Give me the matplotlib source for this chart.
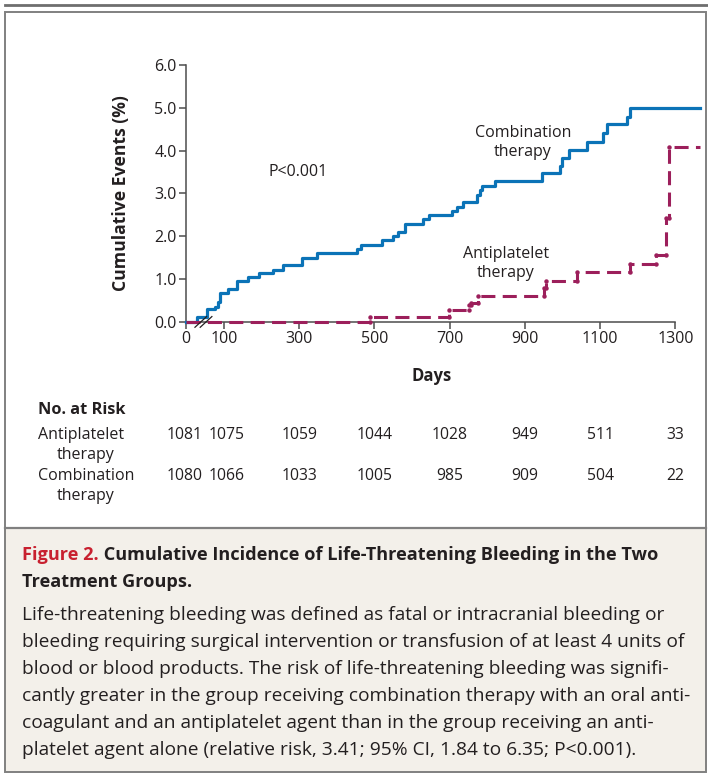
import matplotlib
matplotlib.use("Agg")
import matplotlib.pyplot as plt
from matplotlib.patches import Rectangle
from matplotlib.lines import Line2D
import numpy as np

plt.rcParams['font.family'] = ['Open Sans', 'DejaVu Sans']

#---------------------data
# combination therapy: day of each step, cumulative events (%) after the step
comb_days = [0, 28, 54, 76, 84, 90, 112, 136, 165, 194, 231, 258, 308, 348, 453, 464,
             519, 549, 564, 581, 630, 646, 705, 719, 735, 772, 781, 785, 821, 945, 993,
             1000, 1018, 1066, 1107, 1118, 1172, 1179, 1365]
comb_risk = [0.0, 0.12, 0.29, 0.35, 0.45, 0.66, 0.76, 0.96, 1.04, 1.13, 1.22, 1.32, 1.50,
             1.61, 1.70, 1.80, 1.90, 2.00, 2.10, 2.28, 2.39, 2.49, 2.59, 2.69, 2.79, 2.96,
             3.08, 3.17, 3.29, 3.47, 3.64, 3.82, 4.01, 4.21, 4.40, 4.61, 4.79, 4.99, 4.99]

# antiplatelet therapy
anti_days = [0, 488, 699, 752, 758, 776, 951, 956, 1038, 1179, 1249, 1275, 1284, 1365]
anti_risk = [0.0, 0.10, 0.28, 0.38, 0.44, 0.59, 0.78, 0.96, 1.15, 1.35, 1.55, 2.42, 4.09, 4.09]

risk_days = [0, 100, 300, 500, 700, 900, 1100, 1300]
risk_anti = [1081, 1075, 1059, 1044, 1028, 949, 511, 33]
risk_comb = [1080, 1066, 1033, 1005, 985, 909, 504, 22]

yticks = [0, 1, 2, 3, 4, 5, 6]

caption_body = [
    "Life-threatening bleeding was defined as fatal or intracranial bleeding or",
    "bleeding requiring surgical intervention or transfusion of at least 4 units of",
    "blood or blood products. The risk of life-threatening bleeding was signifi-",
    "cantly greater in the group receiving combination therapy with an oral anti-",
    "coagulant and an antiplatelet agent than in the group receiving an anti-",
    "platelet agent alone (relative risk, 3.41; 95% CI, 1.84 to 6.35; P<0.001).",
]

BLUE = "#0B73B7"
MAROON = "#9C1F5B"
RED = "#C8202F"
DARK = "#231F20"
GREY = "#808080"
BEIGE = "#F3F0EA"

W, H = 708, 774
def fx(px):
    return px / W
def fy(py):
    return 1 - py / H

fig = plt.figure(figsize=(W / 100, H / 100), dpi=100)

#---------------------frame and caption panel
fig.add_artist(Rectangle((fx(5), fy(772)), fx(706) - fx(5), fy(527) - fy(772),
                         transform=fig.transFigure, facecolor=BEIGE, edgecolor='none', zorder=0))
fig.add_artist(Rectangle((fx(5), fy(772)), fx(706) - fx(5), fy(12) - fy(772),
                         transform=fig.transFigure, facecolor='none', edgecolor=GREY, lw=1.4, zorder=1))
fig.add_artist(Line2D([fx(5), fx(706)], [fy(527.5), fy(527.5)], transform=fig.transFigure,
                      color=GREY, lw=1.6))
fig.add_artist(Line2D([fx(5), 1], [fy(5), fy(5)], transform=fig.transFigure, color="#6E6E6E", lw=2.0))

#---------------------the plot
X0, X1 = 186.3, 699.8
left, right, bottom, top = fx(X0), fx(X1), fy(321.7), fy(65)
ax = fig.add_axes([left, bottom, right - left, top - bottom])
ax.set_xlim(0, 1365)
ax.set_ylim(0, 6)
for s in ["top", "right"]:
    ax.spines[s].set_visible(False)
ax.spines["left"].set_bounds(0, 6)
ax.spines["bottom"].set_bounds(0, 1300)
for s in ["left", "bottom"]:
    ax.spines[s].set_color("#4D4D4D")
    ax.spines[s].set_linewidth(1.1)
ax.set_xticks(risk_days)
ax.set_yticks(yticks)
ax.set_yticklabels([f"{v:.1f}" for v in yticks])
ax.tick_params(length=5, width=1.1, color="#4D4D4D", labelsize=11.5, labelcolor=DARK, pad=2)
ax.set_facecolor('none')

ax.step(comb_days, comb_risk, where='post', color=BLUE, lw=2.3, zorder=4, clip_on=False)
ax.step(anti_days, anti_risk, where='post', color=MAROON, lw=2.2, zorder=5, clip_on=False,
        dashes=(4.6, 2.4))
# dots at both ends of each riser of the dashed curve
ad = np.array(anti_days[1:-1])
ar = np.array(anti_risk)
ax.plot(np.r_[ad, ad], np.r_[ar[:-2], ar[1:-1]], 'o', color=MAROON, ms=3.2, zorder=6,
        clip_on=False, markeredgewidth=0)

# axis break marks
for d0 in (23, 37):
    ax.plot([d0, d0 + 31], [-0.13, 0.12], color=DARK, lw=0.9, clip_on=False, zorder=7)

ax.set_ylabel("Cumulative Events (%)", fontsize=12.6, fontweight='bold', color=DARK)
ax.yaxis.set_label_coords((130 - X0) / (X1 - X0), 0.5)
ax.set_xlabel("Days", fontsize=12, fontweight='bold', color=DARK)
ax.xaxis.set_label_coords((432 - X0) / (X1 - X0), (321.7 - 376) / (321.7 - 65))
ax.xaxis.label.set_va('center')

ax.text(297, 3.5, "P<0.001", fontsize=11.5, color=DARK, ha='center', va='center')
ax.text(895, 4.2, "Combination\ntherapy", fontsize=11.5, color=DARK, ha='center', va='center',
        linespacing=1.25)
ax.text(850, 1.35, "Antiplatelet\ntherapy", fontsize=11.5, color=DARK, ha='center', va='center',
        linespacing=1.25)

#---------------------number at risk
fig.text(fx(38), fy(410), "No. at Risk", fontsize=11.8, fontweight='bold', color=DARK, va='center')
fig.text(fx(38), fy(435), "Antiplatelet", fontsize=11.5, color=DARK, va='center')
fig.text(fx(57), fy(455), "therapy", fontsize=11.5, color=DARK, va='center')
fig.text(fx(38), fy(476), "Combination", fontsize=11.5, color=DARK, va='center')
fig.text(fx(57), fy(496), "therapy", fontsize=11.5, color=DARK, va='center')
nudge = [-2, 3, 0, 0, 0, 0, 0, 0]   # first two columns sit a little apart
for d, a, c, n in zip(risk_days, risk_anti, risk_comb, nudge):
    xpx = X0 + d * (X1 - X0) / 1365 + n
    fig.text(fx(xpx), fy(435), str(a), fontsize=11.3, color=DARK, ha='center', va='center')
    fig.text(fx(xpx), fy(476), str(c), fontsize=11.3, color=DARK, ha='center', va='center')

#---------------------caption
t1 = fig.text(fx(22), fy(560), "Figure 2.", fontsize=13.1, fontweight='bold', color=RED, va='baseline')
ax.annotate(" Cumulative Incidence of Life-Threatening Bleeding in the Two", xy=(1, 0),
            xycoords=t1, fontsize=13.1, fontweight='bold', color=DARK, va='bottom', annotation_clip=False)
fig.text(fx(22), fy(587), "Treatment Groups.", fontsize=13.1, fontweight='bold', color=DARK, va='baseline')
for i, line in enumerate(caption_body):
    fig.text(fx(22), fy(620 + 27 * i), line, fontsize=13.8, color=DARK, va='baseline')

fig.savefig("out.png", dpi=100, facecolor='white')
